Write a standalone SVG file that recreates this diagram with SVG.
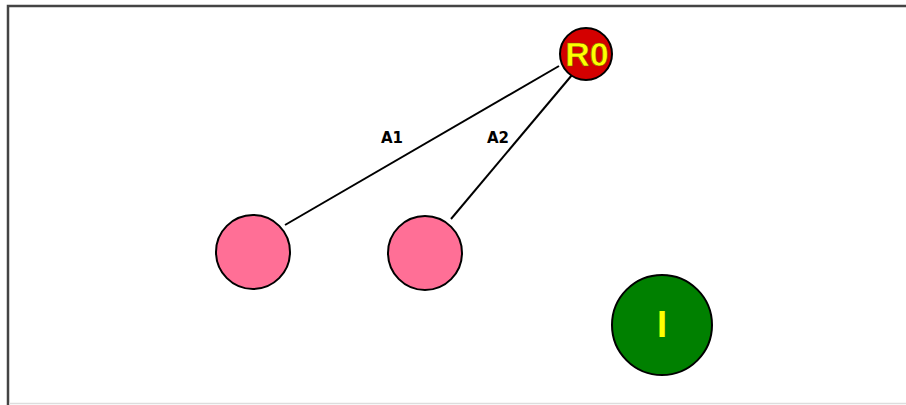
<svg xmlns="http://www.w3.org/2000/svg" width="906" height="405" viewBox="0 0 906 405">
<style>
.node{stroke:#000;stroke-width:2}
.pink{fill:#ff6f96}
.edge{stroke:#000;stroke-width:2;fill:none}
.lbl{font-family:"DejaVu Sans",Verdana,sans-serif;font-weight:bold;font-size:15px;fill:#000;text-anchor:middle}
.ntxt{font-family:"Liberation Sans",Arial,sans-serif;font-weight:bold;fill:#ffff00;text-anchor:middle}
</style>
<rect x="0" y="0" width="906" height="405" fill="#fff"/>
<path d="M8,405 V6 H906" fill="none" stroke="#444" stroke-width="2.5"/>
<line x1="9" y1="403.5" x2="906" y2="403.5" stroke="#ddd" stroke-width="1.5"/>
<g id="connectors">
<line class="edge" x1="285" y1="225" x2="559" y2="66"/>
<line class="edge" x1="451" y1="219" x2="572" y2="75"/>
<text class="lbl" x="392" y="143">A1</text>
<text class="lbl" x="498" y="143">A2</text>
</g>
<g id="R0">
<circle class="node" cx="586" cy="54" r="26" fill="#d40000"/>
<text class="ntxt" x="587" y="66" font-size="34" stroke="#7a5a00" stroke-width="0.6">R0</text>
</g>
<g id="n1">
<circle class="node pink" cx="253" cy="252" r="37"/>
</g>
<g id="n2">
<circle class="node pink" cx="425" cy="253" r="37"/>
</g>
<g id="I">
<circle class="node" cx="662" cy="325" r="50" fill="#008000"/>
<text class="ntxt" x="662" y="337" font-size="36">I</text>
</g>
</svg>
